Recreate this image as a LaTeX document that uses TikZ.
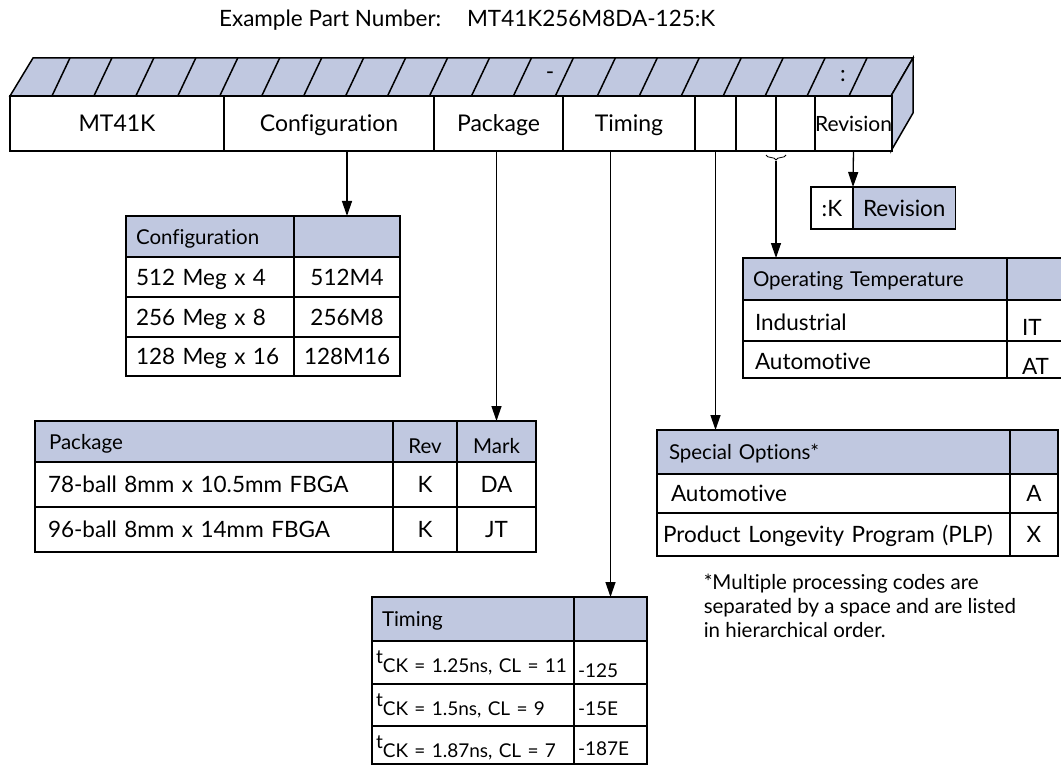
\documentclass[tikz,border=0pt]{standalone}
\usepackage{fontspec}
\setmainfont{Lato}[Ligatures=NoCommon]
\usetikzlibrary{arrows.meta,decorations.pathreplacing}
\definecolor{hdrblue}{RGB}{192,200,224}

\begin{document}
\begin{tikzpicture}[x=1pt,y=-1pt,line width=1.5pt,
   every node/.style={font=\fontsize{22.5}{27}\selectfont},
   cell/.style={draw,anchor=north west,outer sep=0pt,inner xsep=10pt,inner ysep=0pt,text height=16pt,text depth=0pt},
   lcell/.style={cell,align=left},
   hcell/.style={cell,fill=hdrblue,font=\fontsize{20.5}{24}\selectfont,text height=15pt},
   tcell/.style={lcell,inner xsep=4pt,font=\fontsize{19}{23}\selectfont},
   barcell/.style={cell,fill=white,inner xsep=0pt,minimum height=55pt,font=\fontsize{23}{27}\selectfont},
   arr/.style={line width=1.3pt,-{Triangle[length=15pt,width=10pt]}}
]
\useasboundingbox (0,0) rectangle (1061,765);

\node[anchor=base west] (exlbl) at (215,27) {Example Part Number:};
\node[anchor=base west] (expn) at (463,27) {MT41K256M8DA-125:K};

% the part number bar
\filldraw[fill=hdrblue] (10,96) -- (33,58) -- (913,58) -- (891,96) -- cycle;
\filldraw[fill=hdrblue] (891,96) -- (913,58) -- (913,113) -- (891,151) -- cycle;
\foreach \i in {1,...,20}
  \draw (10+\i*41.95,96) -- ++(18,-38);
\node (dash) at (550,76) {-};
\node (colon) at (843,76) {:};
%
\node[barcell,minimum width=214pt] (mt) at (10,96) {MT41K};
\node[barcell,minimum width=210pt] (cfg) at (mt.north east) {Configuration};
\node[barcell,minimum width=129pt] (pkg) at (cfg.north east) {Package};
\node[barcell,minimum width=132pt] (tim) at (pkg.north east) {Timing};
\node[barcell,minimum width=41pt] (opt) at (tim.north east) {};
\node[barcell,minimum width=40pt] (opt2) at (opt.north east) {};
\node[barcell,minimum width=39pt] (tmp) at (opt2.north east) {};
\node[barcell,minimum width=76pt,font=\fontsize{21}{25}\selectfont] (rev) at (tmp.north east) {Revision};
\draw[decorate,decoration={brace,mirror,amplitude=5pt},line width=0.8pt] (766,155) -- (786,155);
\coordinate (brc) at (776,161);

% revision
\node[cell,minimum width=42pt,minimum height=42pt] (revK) at (811,187) {:K};
\node[cell,fill=hdrblue,minimum width=102pt,minimum height=42pt] (revR) at (revK.north east) {Revision};

% configuration
\node[hcell,minimum width=168pt,minimum height=41pt,text width=148pt,align=left] (cfgH1) at (126,216) {Configuration};
\node[hcell,minimum width=106pt,minimum height=41pt] (cfgH2) at (cfgH1.north east) {};
\node[lcell,minimum width=168pt,minimum height=40pt,text width=148pt] (cfg1) at (126,257) {512 Meg x 4};
\node[cell,minimum width=106pt,minimum height=40pt] (cfg1c) at (cfg1.north east) {512M4};
\node[lcell,minimum width=168pt,minimum height=40pt,text width=148pt] (cfg2) at (126,297) {256 Meg x 8};
\node[cell,minimum width=106pt,minimum height=40pt] (cfg2c) at (cfg2.north east) {256M8};
\node[lcell,minimum width=168pt,minimum height=39pt,text width=148pt] (cfg3) at (126,337) {128 Meg x 16};
\node[cell,minimum width=106pt,minimum height=39pt] (cfg3c) at (cfg3.north east) {128M16};

% operating temperature
\node[hcell,minimum width=264pt,minimum height=42pt,text width=244pt,align=left] (otH1) at (743,258) {Operating Temperature};
\node[hcell,minimum width=80pt,minimum height=42pt] (otH2) at (otH1.north east) {};
\node[lcell,minimum width=264pt,minimum height=41pt,text width=240pt,inner xsep=12pt,text height=20pt] (ot1) at (743,300) {Industrial};
\node[lcell,minimum width=80pt,minimum height=41pt,text width=50pt,inner xsep=15pt,text height=30pt] (ot1c) at (ot1.north east) {IT};
\node[lcell,minimum width=264pt,minimum height=37pt,text width=240pt,inner xsep=12pt,text height=20pt] (ot2) at (743,341) {Automotive};
\node[lcell,minimum width=80pt,minimum height=37pt,text width=50pt,inner xsep=15pt,text height=30pt] (ot2c) at (ot2.north east) {AT};

% package
\node[hcell,minimum width=358pt,minimum height=41pt,text width=330pt,inner xsep=14pt,align=left] (pkgH1) at (35,421) {Package};
\node[hcell,minimum width=64pt,minimum height=41pt,text height=23pt] (pkgH2) at (pkgH1.north east) {Rev};
\node[hcell,minimum width=79pt,minimum height=41pt,text height=23pt] (pkgH3) at (pkgH2.north east) {Mark};
\node[lcell,minimum width=358pt,minimum height=45pt,text width=332pt,inner xsep=13pt] (pkg1) at (35,462) {78-ball 8mm x 10.5mm FBGA};
\node[cell,minimum width=64pt,minimum height=45pt] (pkg1r) at (pkg1.north east) {K};
\node[cell,minimum width=79pt,minimum height=45pt] (pkg1m) at (pkg1r.north east) {DA};
\node[lcell,minimum width=358pt,minimum height=45pt,text width=332pt,inner xsep=13pt] (pkg2) at (35,507) {96-ball 8mm x 14mm FBGA};
\node[cell,minimum width=64pt,minimum height=45pt] (pkg2r) at (pkg2.north east) {K};
\node[cell,minimum width=79pt,minimum height=45pt] (pkg2m) at (pkg2r.north east) {JT};

% special options
\node[hcell,minimum width=353pt,minimum height=44pt,text width=329pt,inner xsep=12pt,align=left] (spoH1) at (657,430) {Special Options*};
\node[hcell,minimum width=48pt,minimum height=44pt] (spoH2) at (spoH1.north east) {};
\node[lcell,minimum width=353pt,minimum height=39pt,text width=325pt,inner xsep=14pt] (spo1) at (657,474) {Automotive};
\node[cell,minimum width=48pt,minimum height=39pt] (spo1c) at (spo1.north east) {A};
\node[lcell,minimum width=353pt,minimum height=43pt,text width=341pt,inner xsep=6pt] (spo2) at (657,513) {Product Longevity Program (PLP)};
\node[cell,minimum width=48pt,minimum height=43pt] (spo2c) at (spo2.north east) {X};
\node[anchor=north west,align=left,inner sep=0pt,font=\fontsize{20.5}{24}\selectfont] (fnote) at (703,573)
  {*Multiple processing codes are\\separated by a space and are listed\\in hierarchical order.};

% timing
\node[hcell,minimum width=202pt,minimum height=44pt,text width=182pt,align=left] (timH1) at (372,597) {Timing};
\node[hcell,minimum width=73pt,minimum height=44pt] (timH2) at (timH1.north east) {};
\node[tcell,minimum width=202pt,minimum height=43pt,text width=194pt,text height=20pt] (tim1) at (372,641) {\raisebox{9pt}{t}CK = 1.25ns, CL = 11};
\node[tcell,minimum width=73pt,minimum height=43pt,text width=65pt,text height=30pt] (tim1c) at (tim1.north east) {-125};
\node[tcell,minimum width=202pt,minimum height=42pt,text width=194pt,text height=20pt] (tim2) at (372,684) {\raisebox{9pt}{t}CK = 1.5ns, CL = 9};
\node[tcell,minimum width=73pt,minimum height=42pt,text width=65pt,text height=20pt] (tim2c) at (tim2.north east) {-15E};
\node[tcell,minimum width=202pt,minimum height=38pt,text width=194pt,text height=24pt] (tim3) at (372,726) {\raisebox{9pt}{t}CK = 1.87ns, CL = 7};
\node[tcell,minimum width=73pt,minimum height=38pt,text width=65pt,text height=20pt] (tim3c) at (tim3.north east) {-187E};

% connectors
\draw[arr] (cfgH2.north |- cfg.south) -- (cfgH2.north);
\draw[arr] (pkgH3.north |- pkg.south) -- (pkgH3.north);
\draw[arr] (timH2.north |- tim.south) -- (timH2.north);
\draw[arr] (opt.south) -- (opt.south |- spoH1.north);
\draw[arr] (brc) -- (brc |- otH1.north);
\draw[arr] (rev.south) -- (revK.north east);
\end{tikzpicture}
\end{document}
